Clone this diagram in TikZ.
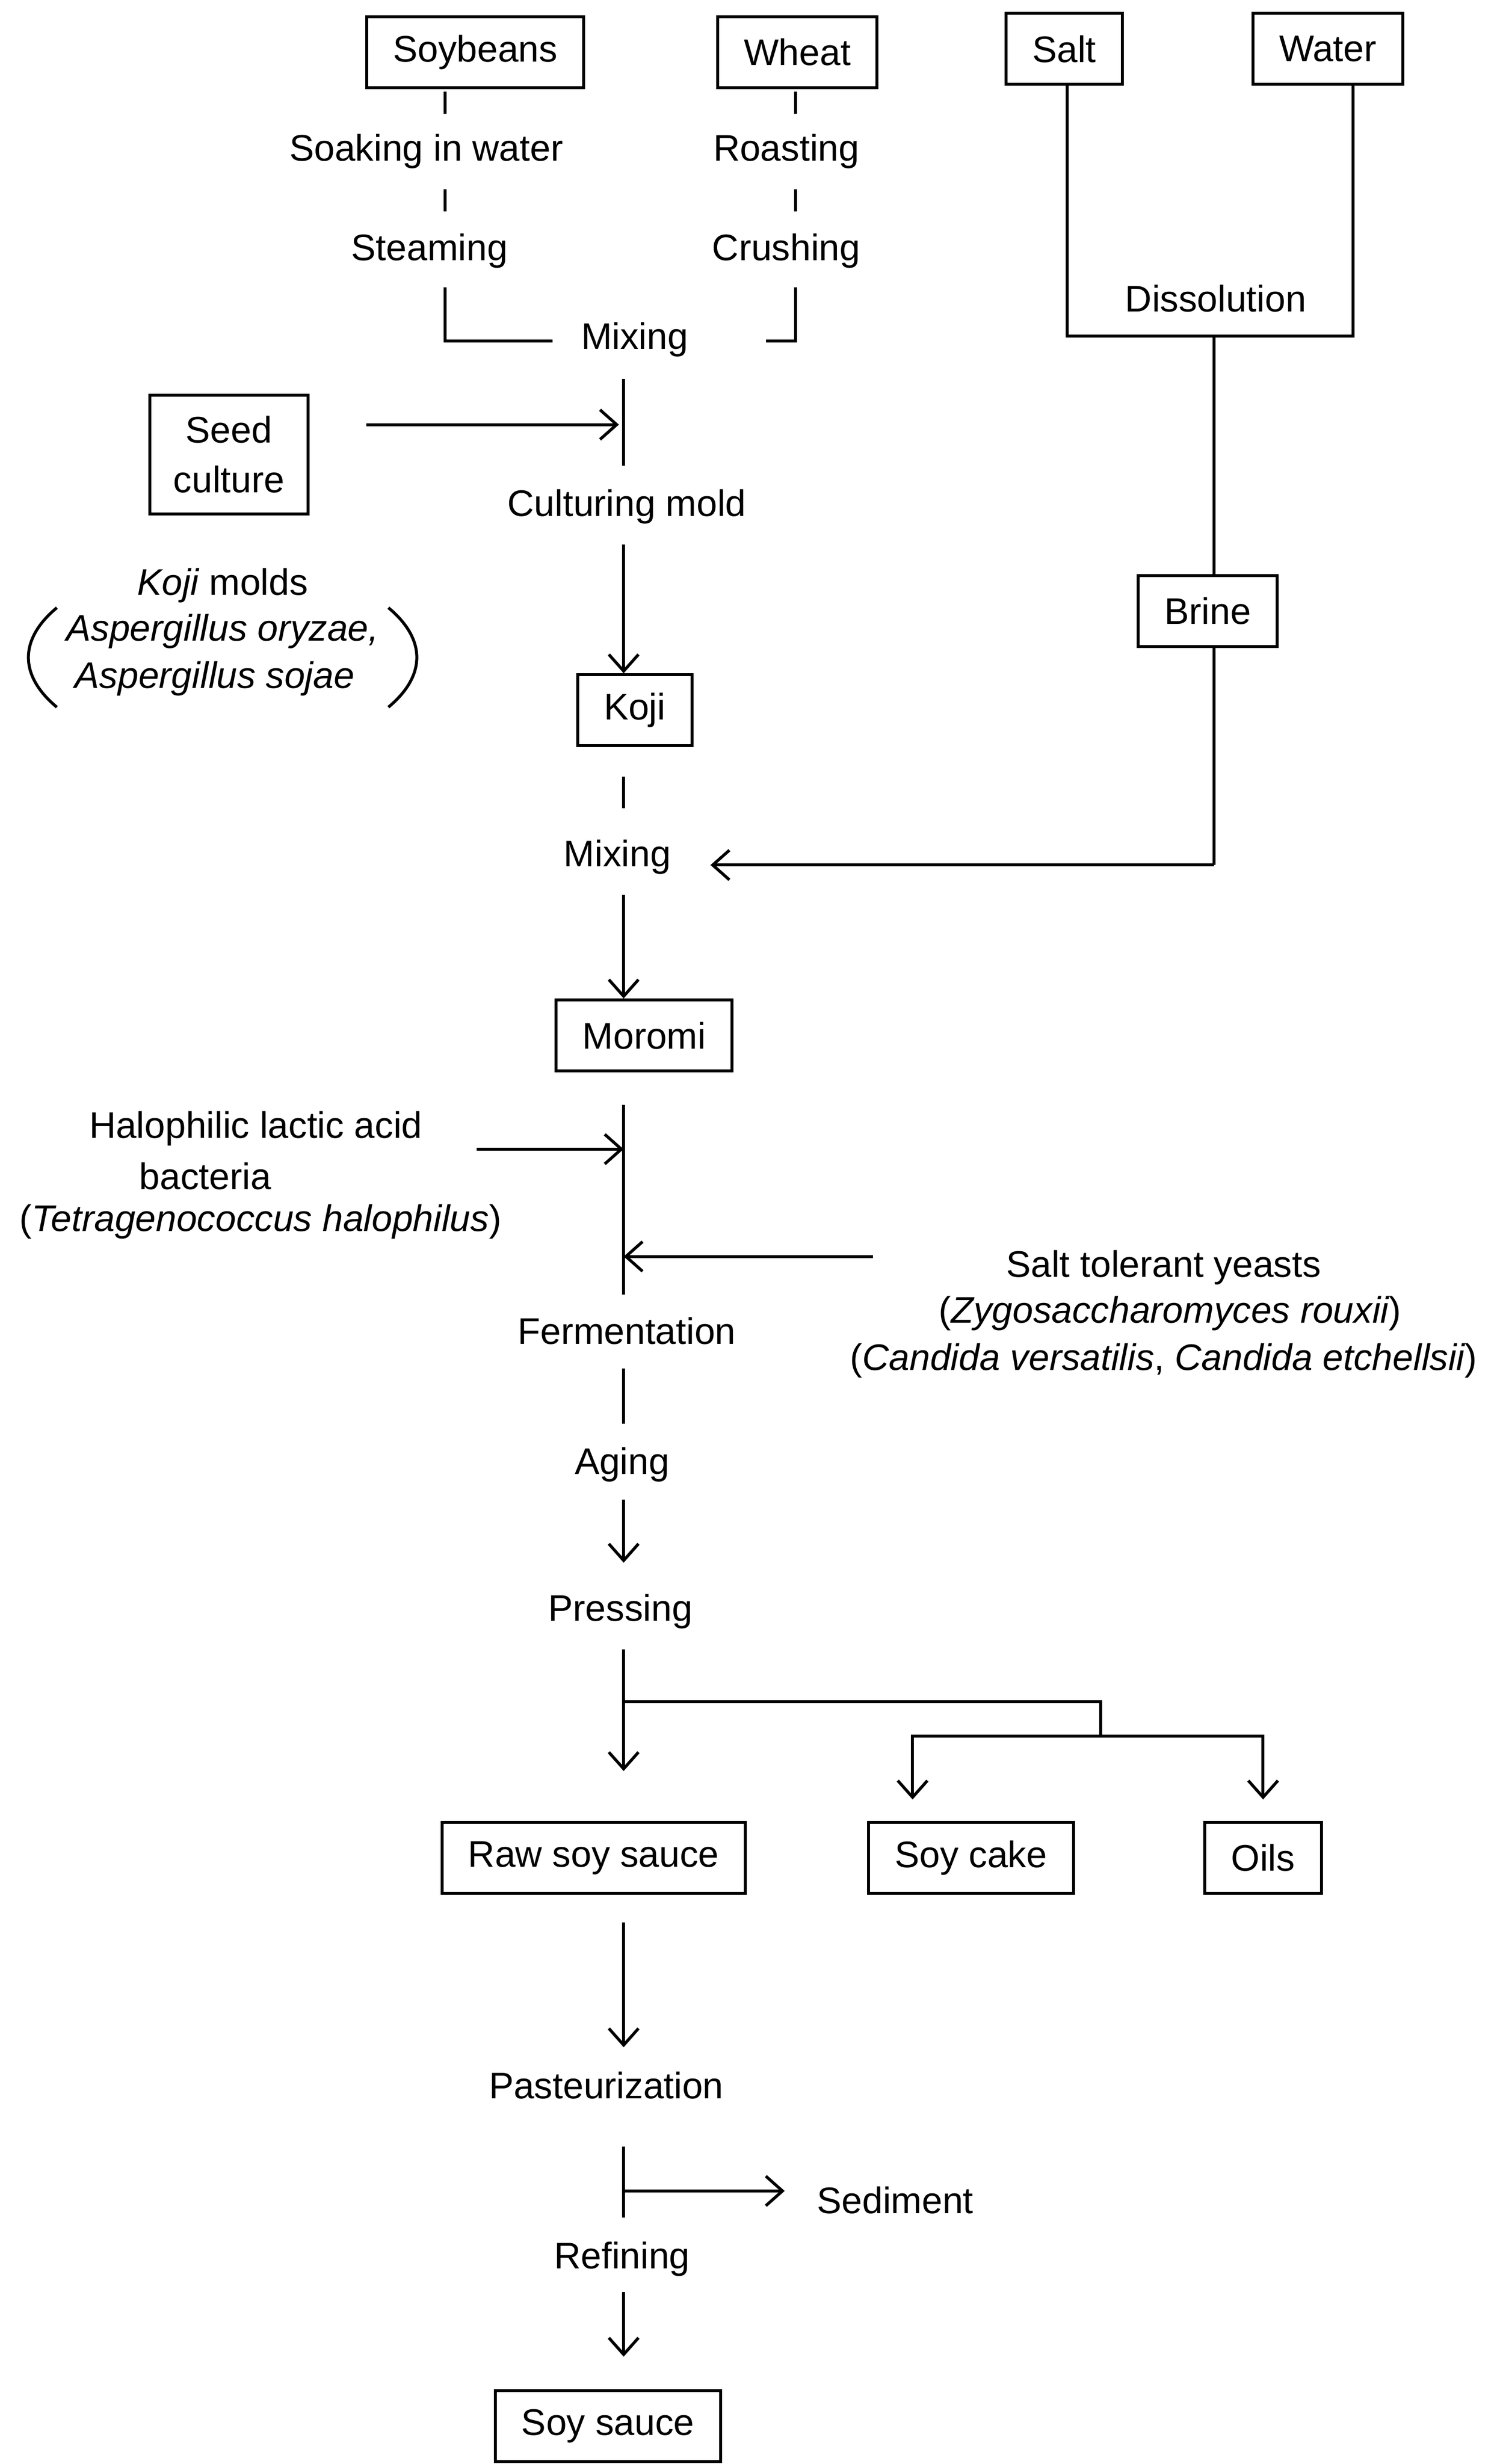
\documentclass[tikz,border=0pt]{standalone}
\usepackage{fontspec}
\setmainfont{Liberation Sans}
\usetikzlibrary{arrows.meta}
\begin{document}
\begin{tikzpicture}[x=0.03cm,y=-0.03cm,line width=1.6pt,
  every node/.style={font=\fontsize{20}{27}\selectfont,inner sep=0pt},
  box/.style={draw,inner xsep=0.5cm,minimum height=1.35cm,align=center},
  lbl/.style={align=center},
  arr/.style={-{Straight Barb[length=9pt,width=16pt]}}]
\useasboundingbox (0,0) rectangle (948,1561);
% top
\node[box] (soy) at (301,33) {Soybeans};
\node[box] (wheat) at (505,33) {Wheat};
\node[box] (salt) at (674,31) {Salt};
\node[box] (water) at (841,31) {Water};
\node[lbl] (soak) at (270,96) {Soaking in water};
\node[lbl] (steam) at (272,159) {Steaming};
\node[lbl] (roast) at (498,96) {Roasting};
\node[lbl] (crush) at (498,159) {Crushing};
\node[lbl] (mix1) at (402,215) {Mixing};
\node[lbl] (diss) at (770,189) {Dissolution};
\draw (282,58) -- (282,72) (282,120) -- (282,134);
\draw (504,58) -- (504,72) (504,120) -- (504,134);
\draw (282,182) -- (282,216) -- (350,216);
\draw (504,182) -- (504,216) -- (485,216);
\coordinate (sj) at (676,213); \coordinate (wj) at (857,213);
\draw (salt.south -| sj) -- (sj) -- (wj) -- (water.south -| wj);
\node[box] (brine) at (765,387) {Brine};
\coordinate (bt) at (769,213);
\draw (bt) -- (brine.north -| bt);
\coordinate (bj) at (769,548);
\draw (brine.south -| bj) -- (bj);
% seed
\node[box,inner xsep=0.45cm,minimum height=2.25cm] (seed) at (145,288) {Seed\\culture};
\draw (395,240) -- (395,295);
\coordinate (sa) at (392,269);
\draw[arr] (232,269) -- (sa);
\node[lbl] (cult) at (397,321) {Culturing mold};
\node[box] (koji) at (402,450) {Koji};
\coordinate (c1) at (395,345);
\draw[arr] (c1) -- (koji.north -| c1);
\node[lbl] (km1) at (141,371) {\itshape Koji\upshape\ molds};
\node[lbl] (km2) at (141,400) {\itshape Aspergillus oryzae,};
\node[lbl] (km3) at (136,430) {\itshape Aspergillus sojae};
\draw (36,385) .. controls (12,405) and (12,428) .. (36,448);
\draw (246,385) .. controls (270,405) and (270,428) .. (246,448);
% mixing 2
\draw (395,492) -- (395,512);
\node[lbl] (mix2) at (391,543) {Mixing};
\coordinate (ma) at (450,548);
\draw[arr] (bj) -- (ma);
\node[box] (moromi) at (408,656) {Moromi};
\coordinate (c2) at (395,567);
\draw[arr] (c2) -- (moromi.north -| c2);
% fermentation
\draw (395,700) -- (395,820);
\node[lbl] (hal1) at (162,715) {Halophilic lactic acid};
\node[lbl] (hal2) at (130,745) {bacteria};
\node[lbl] (hal3) at (165,774) {(\itshape Tetragenococcus halophilus\upshape)};
\coordinate (ha) at (395,728);
\draw[arr] (302,728) -- (ha);
\node[lbl] (y1) at (737,803) {Salt tolerant yeasts};
\node[lbl] (y2) at (741,832) {(\itshape Zygosaccharomyces rouxii\upshape)};
\node[lbl] (y3) at (737,862) {(\itshape Candida versatilis\upshape, \itshape Candida etchellsii\upshape)};
\coordinate (ya) at (395,796);
\draw[arr] (553,796) -- (ya);
\node[lbl] (ferm) at (397,843) {Fermentation};
\draw (395,867) -- (395,902);
\node[lbl] (aging) at (394,928) {Aging};
\node[lbl] (press) at (393,1021) {Pressing};
\draw[arr] (395,950) -- (395,990);
% products
\node[box] (raw) at (376,1177) {Raw soy sauce};
\node[box] (cake) at (615,1177) {Soy cake};
\node[box] (oils) at (800,1177) {Oils};
\draw[arr] (395,1045) -- (395,1122);
\draw (395,1078) -- (697,1078) -- (697,1100);
\draw[arr] (697,1100) -- (578,1100) -- (578,1140);
\draw[arr] (697,1100) -- (800,1100) -- (800,1140);
\node[lbl] (past) at (384,1321) {Pasteurization};
\draw[arr] (395,1218) -- (395,1297);
\draw (395,1360) -- (395,1405);
\node[lbl] (sed) at (567,1394) {Sediment};
\coordinate (sda) at (497,1388);
\draw[arr] (395,1388) -- (sda);
\node[lbl] (ref) at (394,1431) {Refining};
\node[box] (final) at (385,1537) {Soy sauce};
\draw[arr] (395,1452) -- (395,1493);
\end{tikzpicture}
\end{document}
